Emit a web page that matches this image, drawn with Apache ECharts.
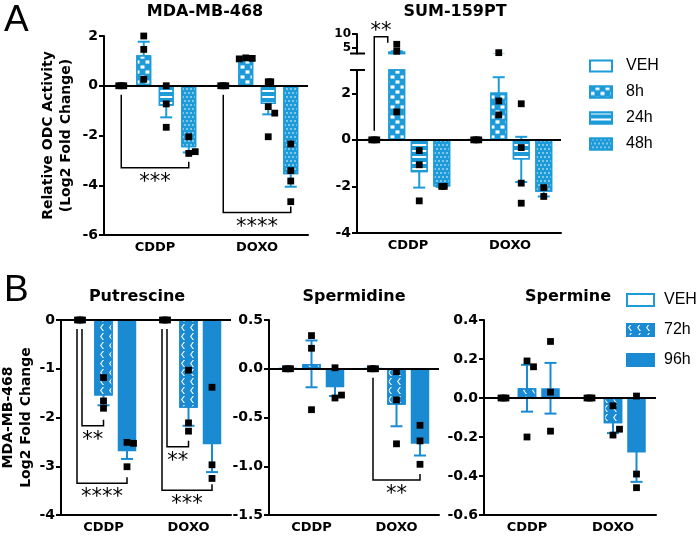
<!DOCTYPE html>
<html>
<head>
<meta charset="utf-8">
<script src="https://cdn.jsdelivr.net/npm/echarts@6/dist/echarts.min.js"></script>
<style>
  html, body {margin: 0; padding: 0; background: #fff;}
  #chart {width: 700px; height: 537px;}
</style>
</head>
<body>
<div id="chart"></div>
<script>
var categories = ['CDDP', 'DOXO']
var groupsA = ['VEH', '8h', '24h', '48h']
var groupsB = ['VEH', '72h', '96h']

// rows = groups, cols = categories
// A, MDA-MB-468 relative ODC activity
var mdaMean = [[0, 0], [1.23, 1.1], [-0.8, -0.73], [-2.47, -3.56]]
var mdaSem = [[0, 0], [0.54, 0.05], [0.47, 0.42], [0.21, 0.5]]
var mdaPts = [
  [[0, 0, 0], [0, 0, 0]],
  [[2.0, 1.46, 0.26], [1.12, 1.1, 1.08]],
  [[0, -0.73, -1.67], [0.16, 0.16, -0.84, -1.1, -2.05]],
  [[-2.05, -2.72, -2.65], [-2.34, -3.41, -3.83, -4.66]]
]
// A, SUM-159PT (broken axis)
var sumMean = [[0, 0], [3.7, 2.03], [-1.39, -0.84], [-2.0, -2.23]]
var sumSem = [[0, 0], [0.15, 0.66], [0.66, 0.97], [0.02, 0.2]]
var sumPts = [
  [[0, 0, 0], [0, 0, 0]],
  [[6.3, 3.8, 1.2], [3.3, 1.67, 1.07]],
  [[-0.46, -1.07, -2.62], [1.55, -0.33, -1.86, -2.72]],
  [[-2.0, -2.0], [-2.05, -2.43]]
]
// B, putrescine
var putMean = [[0, 0], [-1.55, -1.8], [-2.69, -2.55]]
var putSem = [[0, 0], [0.2, 0.37], [0.16, 0.57]]
var putPts = [
  [[0, 0, 0], [0, 0, 0]],
  [[-1.18, -1.81, -1.66], [-1.03, -2.28, -2.11]],
  [[-2.51, -2.53, -3.01], [-1.38, -2.97, -3.25]]
]
// B, spermidine
var spdMean = [[0, 0], [0.05, -0.37], [-0.19, -0.77]]
var spdSem = [[0, 0], [0.24, 0.22], [0.09, 0.12]]
var spdPts = [
  [[0, 0, 0], [0, 0, 0]],
  [[0.34, 0.21, -0.42], [-0.03, -0.32, -0.77]],
  [[0.01, -0.30, -0.27], [-0.58, -0.74, -0.98]]
]
// B, spermine
var spmMean = [[0, 0], [0.05, -0.13], [0.05, -0.28]]
var spmSem = [[0, 0], [0.12, 0.05], [0.13, 0.15]]
var spmPts = [
  [[0, 0, 0], [0, 0, 0]],
  [[0.19, 0.16, -0.20], [-0.04, -0.19, -0.16]],
  [[0.29, 0.03, -0.17], [0.01, -0.39, -0.46]]
]

// significance brackets: cat, from group, to group, level (y value), stars
var mdaBrackets = [
  {cat: 0, from: 0, to: 3, level: -3.3, text: '***'},
  {cat: 1, from: 0, to: 3, level: -5.1, text: '****'}
]
var sumBrackets = [
  {cat: 0, from: 0, to: 1, level: 4.43, text: '**', up: true, rshift: -9}
]
var putBrackets = [
  {cat: 0, from: 0, to: 1, level: -2.17, text: '**', shift: 2},
  {cat: 0, from: 0, to: 2, level: -3.35, text: '****', shift: -3},
  {cat: 1, from: 0, to: 1, level: -2.6, text: '**', shift: 2},
  {cat: 1, from: 0, to: 2, level: -3.49, text: '***', shift: -3}
]
var spdBrackets = [
  {cat: 1, from: 0, to: 2, level: -1.14, text: '**'}
]

var blueA = '#1d9bd9'
var blueB = '#1a8bd2'
var boldFont = 'DejaVu Sans'

function groupStyle (name, blue) {
  var s = {color: blue, borderColor: blue, borderWidth: 1.5}
  if (name === 'VEH') {
    s = {color: '#fff', borderColor: blue, borderWidth: 2}
  } else if (name === '8h') {
    s.decal = {symbol: 'rect', symbolSize: 0.8, color: '#fff', dashArrayX: [[5, 5], [0, 5, 5, 0]], dashArrayY: [4, 1]}
  } else if (name === '24h') {
    s.decal = {symbol: 'rect', symbolSize: 1, color: '#fff', dashArrayX: [1, 0], dashArrayY: [1.5, 4]}
  } else if (name === '48h') {
    s.decal = {symbol: 'circle', symbolSize: 0.8, color: '#fff', dashArrayX: [[2, 2], [0, 2, 2, 0]], dashArrayY: [2, 1.5]}
  } else if (name === '72h') {
    s.decal = {symbol: 'path://M3,0 L0,4 L3,8 L4.5,8 L1.5,4 L4.5,0 Z', symbolSize: 1, color: '#fff', dashArrayX: [6, 3], dashArrayY: [7, 2]}
  }
  return s
}

var panels = [
  {grid: 0, groups: groupsA, mean: mdaMean, sem: mdaSem, pts: mdaPts, color: blueA, barWidth: 15, pitch: 22.5, zero: true, brackets: mdaBrackets},
  {grid: 1, groups: groupsA, mean: sumMean, sem: sumSem, pts: sumPts, color: blueA, barWidth: 17, pitch: 22.5, zero: true, brackets: sumBrackets, keep: function (v) { return v <= 3 }},
  {grid: 2, groups: groupsA, mean: sumMean, sem: sumSem, pts: sumPts, color: blueA, barWidth: 17, pitch: 22.5, keep: function (v) { return v > 3 }},
  {grid: 3, groups: groupsB, mean: putMean, sem: putSem, pts: putPts, color: blueB, barWidth: 18.5, pitch: 23.5, zero: true, brackets: putBrackets},
  {grid: 4, groups: groupsB, mean: spdMean, sem: spdSem, pts: spdPts, color: blueB, barWidth: 18.5, pitch: 23.5, zero: true, brackets: spdBrackets},
  {grid: 5, groups: groupsB, mean: spmMean, sem: spmSem, pts: spmPts, color: blueB, barWidth: 18.5, pitch: 23.5, zero: true}
]

var grids = [
  {left: 104, top: 36, width: 204, height: 199},
  {left: 357, top: 70, width: 204, height: 163},
  {left: 357, top: 34, width: 204, height: 19.5},
  {left: 61, top: 320, width: 170, height: 195},
  {left: 269, top: 320, width: 170, height: 195},
  {left: 484, top: 320, width: 172, height: 195}
]
grids.forEach(function (g) { g.outerBoundsMode = 'none'; g.containLabel = false })

function xAx (gi, show) {
  return {
    type: 'category', gridIndex: gi, data: categories, show: show, position: 'bottom',
    axisLine: {onZero: false, lineStyle: {color: '#000', width: 2}},
    axisTick: {alignWithLabel: true, length: 5, lineStyle: {color: '#000', width: 2}},
    axisLabel: {color: '#000', fontFamily: boldFont, fontWeight: 'bold', fontSize: 13, margin: 6},
    splitLine: {show: false}
  }
}

function yAx (gi, min, max, interval, digits, extra) {
  var ax = {
    type: 'value', gridIndex: gi, min: min, max: max, interval: interval,
    axisLine: {show: true, onZero: false, lineStyle: {color: '#000', width: 2}},
    axisTick: {show: true, length: 5, lineStyle: {color: '#000', width: 2}},
    axisLabel: {color: '#000', fontFamily: boldFont, fontWeight: 'bold', fontSize: 14, margin: 6,
      formatter: function (v) { return Math.abs(v) < 1e-9 ? (digits ? (0).toFixed(digits) : '0') : v.toFixed(digits) }},
    splitLine: {show: false},
    nameTextStyle: {color: '#000', fontFamily: boldFont, fontWeight: 'bold', fontSize: 14, lineHeight: 18}
  }
  return Object.assign(ax, extra || {})
}

var xAxes = [xAx(0, true), xAx(1, true), xAx(2, false), xAx(3, true), xAx(4, true), xAx(5, true)]
var yAxes = [
  yAx(0, -6, 2, 2, 0, {name: 'Relative ODC Activity\n(Log2 Fold Change)', nameLocation: 'middle', nameRotate: 90, nameGap: 29}),
  yAx(1, -4, 3, 2, 0),
  yAx(2, 3, 10, 1, 0),
  yAx(3, -4, 0, 1, 0, {name: 'MDA-MB-468\nLog2 Fold Change', nameLocation: 'middle', nameRotate: 90, nameGap: 26}),
  yAx(4, -1.5, 0.5, 0.5, 1),
  yAx(5, -0.6, 0.4, 0.2, 1)
]
yAxes[1].axisLabel.customValues = [-4, -2, 0, 2]
yAxes[1].axisTick.customValues = [-4, -2, 0, 2]
yAxes[2].axisLabel.customValues = [5, 10]
yAxes[2].axisTick.customValues = [5, 10]
yAxes[2].axisLabel.fontSize = 12

var series = []

panels.forEach(function (p) {
  var n = p.groups.length
  var gap = ((p.pitch - p.barWidth) / p.barWidth * 100).toFixed(1) + '%'
  function dx (gi) { return (gi - (n - 1) / 2) * p.pitch }

  p.groups.forEach(function (g, gi) {
    var s = {
      type: 'bar', name: g, xAxisIndex: p.grid, yAxisIndex: p.grid,
      data: p.mean[gi], barWidth: p.barWidth, barGap: gap,
      itemStyle: groupStyle(g, p.color), clip: true, z: 2, silent: true
    }
    if (gi === 0 && p.zero) {
      s.markLine = {silent: true, symbol: 'none', label: {show: false}, animation: false,
        lineStyle: {color: '#000', width: 2, type: 'solid'}, data: [{yAxis: 0}]}
    }
    series.push(s)
  })

  // error bars (drawn behind bars, so only the outer part shows)
  var errData = []
  p.groups.forEach(function (g, gi) {
    categories.forEach(function (c, ci) {
      if (p.sem[gi][ci] > 0) errData.push([ci, p.mean[gi][ci], p.sem[gi][ci], gi])
    })
  })
  series.push({
    type: 'custom', xAxisIndex: p.grid, yAxisIndex: p.grid, clip: true, z: 1, silent: true,
    data: errData,
    renderItem: function (params, api) {
      var ci = api.value(0), m = api.value(1), s = api.value(2), gi = api.value(3)
      var hi = api.coord([ci, m + s]), lo = api.coord([ci, m - s])
      var x = hi[0] + dx(gi)
      var st = {stroke: p.color, lineWidth: 2}
      return {type: 'group', children: [
        {type: 'line', shape: {x1: x, y1: hi[1], x2: x, y2: lo[1]}, style: st},
        {type: 'line', shape: {x1: x - 6, y1: hi[1], x2: x + 6, y2: hi[1]}, style: st},
        {type: 'line', shape: {x1: x - 6, y1: lo[1], x2: x + 6, y2: lo[1]}, style: st}
      ]}
    }
  })

  // individual points
  var ptData = []
  p.groups.forEach(function (g, gi) {
    categories.forEach(function (c, ci) {
      p.pts[gi][ci].forEach(function (v, k) {
        if (!p.keep || p.keep(v)) ptData.push([ci, v, gi, k])
      })
    })
  })
  series.push({
    type: 'custom', xAxisIndex: p.grid, yAxisIndex: p.grid, clip: false, z: 5, silent: true,
    data: ptData,
    renderItem: function (params, api) {
      var ci = api.value(0), v = api.value(1), gi = api.value(2), k = api.value(3)
      var pos = api.coord([ci, v])
      var list = p.pts[gi][ci]
      var c = 0, same = true
      for (var j = 0; j < k; j++) {
        if (p.keep && !p.keep(list[j])) continue
        var yj = api.coord([ci, list[j]])[1]
        if (Math.abs(yj - pos[1]) < 6.5) {
          c++
          if (list[j] !== v) same = false
        }
      }
      var step = same ? 2.5 : 6.5
      var off = c === 0 ? 0 : (c % 2 ? 1 : -1) * Math.ceil(c / 2) * step
      var x = pos[0] + dx(gi) + off
      return {type: 'rect', shape: {x: x - 3.4, y: pos[1] - 3.4, width: 6.8, height: 6.8}, style: {fill: '#000'}}
    }
  })

  // significance brackets
  if (p.brackets) {
    series.push({
      type: 'custom', xAxisIndex: p.grid, yAxisIndex: p.grid, clip: false, z: 6, silent: true,
      data: p.brackets.map(function (b, i) { return [b.cat, b.level, i] }),
      renderItem: function (params, api) {
        var b = p.brackets[api.value(2)]
        var zero = api.coord([b.cat, 0])
        var lv = api.coord([b.cat, b.level])
        var dir = b.up ? -1 : 1
        var xl = zero[0] + dx(b.from) + (b.shift || 0)
        var xr = zero[0] + dx(b.to) + (b.rshift || 0)
        var y0 = zero[1] + dir * 9
        var y1 = lv[1]
        return {type: 'group', children: [
          {type: 'polyline', shape: {points: [[xl, y0], [xl, y1], [xr, y1], [xr, y1 - dir * 6]]},
            style: {stroke: '#000', lineWidth: 1.5, fill: null}},
          {type: 'text', x: (xl + xr) / 2, y: b.up ? y1 - 16 : y1 + 4,
            style: {text: b.text, fill: '#000', font: '21px DejaVu Sans',
              align: 'center', verticalAlign: 'top'}}
        ]}
      }
    })
  }
})

function label (text, x, y, size, weight, family, align) {
  return {type: 'text', x: x, y: y, silent: true,
    style: {text: text, fill: '#000', font: (weight || 'normal') + ' ' + size + 'px ' + (family || boldFont),
      align: align || 'center', verticalAlign: 'top'}}
}

var option = {
  animation: false,
  grid: grids,
  xAxis: xAxes,
  yAxis: yAxes,
  legend: [
    {data: groupsA, orient: 'vertical', left: 584, top: 53, itemWidth: 22, itemHeight: 11, itemGap: 10,
      selectedMode: false, icon: 'rect',
      textStyle: {color: '#000', fontSize: 16, fontFamily: 'Liberation Sans', padding: [0, 0, 0, 9]}},
    {data: groupsB, orient: 'vertical', left: 621, top: 287, itemWidth: 27, itemHeight: 12, itemGap: 14,
      selectedMode: false, icon: 'rect',
      textStyle: {color: '#000', fontSize: 16, fontFamily: 'Liberation Sans', padding: [0, 0, 0, 5]}}
  ],
  graphic: [
    label('A', 4, 2, 37, 'normal', 'Liberation Sans', 'left'),
    label('B', 4, 272, 37, 'normal', 'Liberation Sans', 'left'),
    label('MDA-MB-468', 205, 4, 16, 'bold'),
    label('SUM-159PT', 455, 4, 16, 'bold'),
    label('Putrescine', 137, 289, 16, 'bold'),
    label('Spermidine', 354, 289, 16, 'bold'),
    label('Spermine', 568, 289, 16, 'bold'),
    // axis break caps
    {type: 'line', silent: true, shape: {x1: 350, y1: 70, x2: 365, y2: 70}, style: {stroke: '#000', lineWidth: 2}},
    {type: 'line', silent: true, shape: {x1: 350, y1: 53.5, x2: 365, y2: 53.5}, style: {stroke: '#000', lineWidth: 2}}
  ],
  series: series
}

var myChart = echarts.init(document.getElementById('chart'))
myChart.setOption(option)
</script>
</body>
</html>
